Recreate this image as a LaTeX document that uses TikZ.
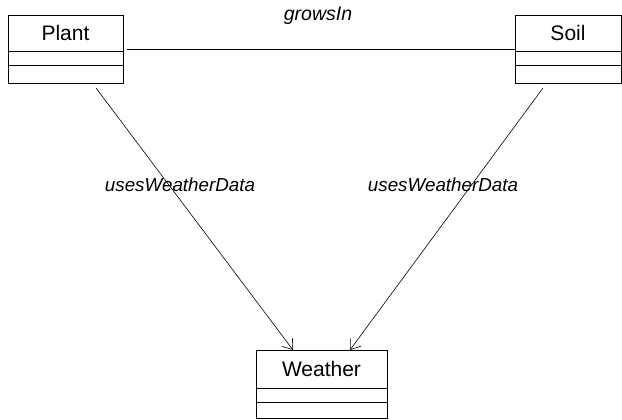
\documentclass[tikz,border=0pt]{standalone}
\usepackage{fontspec}
\setmainfont{Liberation Sans}
\usetikzlibrary{positioning,arrows.meta}
\tikzset{
  classhead/.style={draw,line width=0.9pt,outer sep=0pt,inner sep=0pt,minimum height=36pt,font=\fontsize{21}{25}\selectfont},
  classpart/.style={draw,line width=0.9pt,outer sep=0pt,inner sep=0pt},
  assoc/.style={line width=0.6pt},
  depends/.style={line width=0.6pt,-{Straight Barb[length=9pt,width=13pt]}},
  rolelabel/.style={font=\fontsize{19.5}{23}\selectfont\itshape}
}

\begin{document}
\begin{tikzpicture}[x=1pt,y=1pt]
\useasboundingbox (0,0) rectangle (622,420);
% classes
\node[classhead,minimum width=115pt] (plant) at (65.5,387) {Plant};
\node[classpart,minimum width=115pt,minimum height=14pt,below=0pt of plant] (plant1) {};
\node[classpart,minimum width=115pt,minimum height=18pt,below=0pt of plant1] (plant2) {};
\node[classhead,minimum width=106pt] (soil) at (568,387) {Soil};
\node[classpart,minimum width=106pt,minimum height=14pt,below=0pt of soil] (soil1) {};
\node[classpart,minimum width=106pt,minimum height=18pt,below=0pt of soil1] (soil2) {};
\node[classhead,minimum width=131pt,minimum height=38pt] (weather) at (321.5,51) {Weather};
\node[classpart,minimum width=131pt,minimum height=14pt,below=0pt of weather] (weather1) {};
\node[classpart,minimum width=131pt,minimum height=16pt,below=0pt of weather1] (weather2) {};
% associations
\draw[assoc] ([shift={(4pt,2pt)}]plant.south east) -- ([yshift=2pt]soil.south west);
\node[rolelabel] (grows) at (318,404) {growsIn};
\draw[depends] ([shift={(30.5pt,-5pt)}]plant2.south) -- ([xshift=-28.5pt]weather.north);
\draw[depends] ([shift={(-25pt,-5pt)}]soil2.south) -- ([xshift=28.5pt]weather.north);
\node[rolelabel,font=\fontsize{18.8}{22}\selectfont\itshape] (usesA) at (180,235) {usesWeatherData};
\node[rolelabel,font=\fontsize{18.8}{22}\selectfont\itshape] (usesB) at (443,235) {usesWeatherData};
\end{tikzpicture}
\end{document}
